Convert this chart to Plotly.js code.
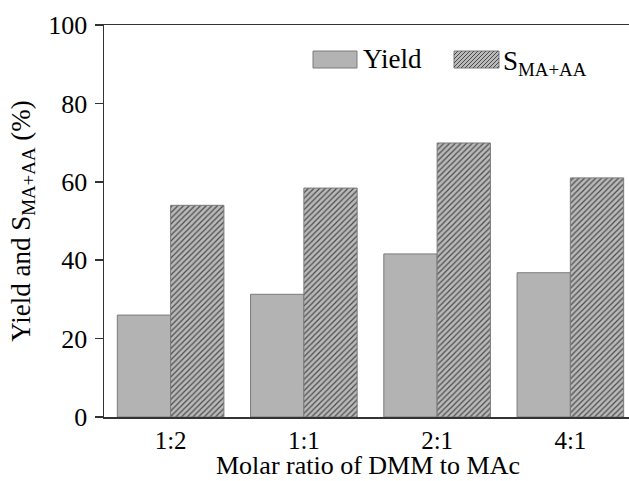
<!DOCTYPE html>
<html>
<head>
<meta charset="utf-8">
<script src="https://cdn.plot.ly/plotly-3.0.1.min.js"></script>
<style>html,body{margin:0;padding:0;background:#fff;overflow:hidden}</style>
</head>
<body>
<div id="chart" style="width:629px;height:481px"></div>
<script>
const categories = ["1:2", "1:1", "2:1", "4:1"];
const yieldValues = [26, 31.3, 41.6, 36.8];
const selectivityValues = [54, 58.4, 69.9, 61];
const yTickValues = [0, 20, 40, 60, 80, 100];

const FONT = "Liberation Serif, Times New Roman, serif";
const data = [
  {
    type: "bar", x: categories, y: yieldValues, name: "Yield",
    marker: {color: "#b3b3b3", line: {color: "#7a7a7a", width: 1}},
    showlegend: false
  },
  {
    type: "bar", x: categories, y: selectivityValues, name: "S<sub>MA+AA</sub>",
    marker: {color: "#b3b3b3", line: {color: "#7a7a7a", width: 1},
      pattern: {shape: "/", bgcolor: "#bababa", fgcolor: "#4a4a4a", size: 4, solidity: 0.3}},
    showlegend: false
  }
];

const layout = {
  width: 629, height: 481,
  margin: {l: 104, r: 0, t: 25, b: 64},
  paper_bgcolor: "#fff", plot_bgcolor: "#fff",
  font: {family: FONT, size: 26, color: "#000"},
  barmode: "group", bargap: 0.2, bargroupgap: 0,
  xaxis: {
    range: [-0.5, 3.44], showline: true, linecolor: "#333", linewidth: 1.5, mirror: true,
    ticks: "", showgrid: false, zeroline: false, tickfont: {size: 25, family: FONT}, ticklabelstandoff: 0
  },
  yaxis: {
    range: [0, 100], tickvals: yTickValues, showline: true, linecolor: "#333", linewidth: 1.5,
    ticks: "outside", ticklen: 8, tickcolor: "#333", tickwidth: 1.5, showgrid: false, zeroline: false,
    tickfont: {size: 26, family: FONT}, ticklabelstandoff: 2,
    title: {text: "Yield and S<sub>MA+AA</sub> (%)", font: {size: 27, family: FONT}, standoff: 10}
  },
  shapes: [
    {type: "rect", xref: "paper", yref: "paper", x0: (313-104)/525, x1: (357-104)/525,
      y0: (417-68)/392, y1: (417-51)/392, fillcolor: "#b3b3b3", line: {color: "#7a7a7a", width: 1}},
    {type: "rect", xref: "paper", yref: "paper", x0: (454-104)/525, x1: (499-104)/525,
      y0: (417-68)/392, y1: (417-51)/392, fillcolor: "#bababa", line: {color: "#7a7a7a", width: 1}}
  ],
  annotations: [
    {xref: "paper", yref: "paper", x: (368-104)/525, y: (417-481)/392, xanchor: "center", yanchor: "bottom",
      text: "Molar ratio of DMM to MAc", showarrow: false, font: {size: 26, family: FONT}, borderpad: 0},
    {xref: "paper", yref: "paper", x: (361-104)/525, y: (417-59)/392, xanchor: "left", yanchor: "middle",
      text: "Yield", showarrow: false, font: {size: 27, family: FONT}},
    {xref: "paper", yref: "paper", x: (501-104)/525, y: (417-63)/392, xanchor: "left", yanchor: "middle",
      text: "S<sub>MA+AA</sub>", showarrow: false, font: {size: 27, family: FONT}}
  ]
};
(function () {
  const x0 = 454, x1 = 499, y0 = 51, y1 = 68, step = 4;
  for (let s = x0 - (y1 - y0); s < x1; s += step) {
    let ax = s, ay = y1, bx = s + (y1 - y0), by = y0;
    if (ax < x0) { ay = y1 - (x0 - ax); ax = x0; }
    if (bx > x1) { by = y0 + (bx - x1); bx = x1; }
    if (ax >= bx) continue;
    layout.shapes.push({type: "line", xref: "paper", yref: "paper",
      x0: (ax-104)/525, x1: (bx-104)/525, y0: (417-ay)/392, y1: (417-by)/392,
      line: {color: "#4a4a4a", width: 1}});
  }
})();
Plotly.newPlot("chart", data, layout, {displayModeBar: false, staticPlot: true});
</script>
</body>
</html>
